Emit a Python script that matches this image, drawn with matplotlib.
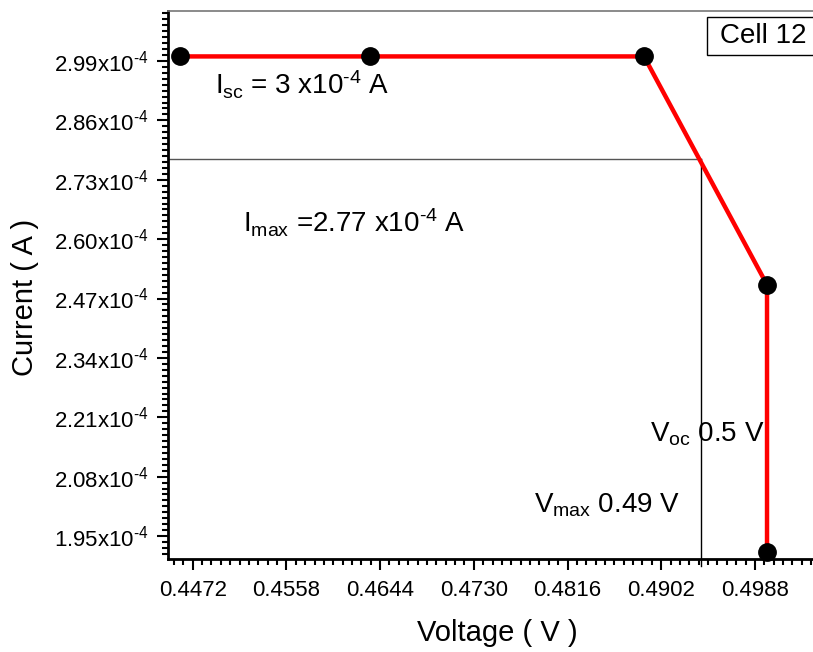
import matplotlib
matplotlib.use("Agg")
import matplotlib.pyplot as plt
from matplotlib.patches import Rectangle
from matplotlib.ticker import MultipleLocator

plt.rcParams['font.family'] = ['Liberation Sans', 'DejaVu Sans']
plt.rcParams['mathtext.fontset'] = 'custom'
plt.rcParams['mathtext.rm'] = 'Liberation Sans'
plt.rcParams['mathtext.it'] = 'Liberation Sans'
plt.rcParams['mathtext.default'] = 'regular'

# I-V data
voltage = [0.44603, 0.46347, 0.48862, 0.49991, 0.49991]
current = [3.0e-4, 3.0e-4, 3.0e-4, 2.50e-4, 1.915e-4]

# maximum power point
v_max = 0.49383
i_max = 2.775e-4

xticks = [0.4472, 0.4558, 0.4644, 0.4730, 0.4816, 0.4902, 0.4988]
yticks = [1.95, 2.08, 2.21, 2.34, 2.47, 2.60, 2.73, 2.86, 2.99]  # x1e-4

fig = plt.figure(figsize=(8.13, 6.52), dpi=100)
ax = fig.add_axes([0.2066, 0.1426, 0.7934, 0.8405])

ax.plot([0.44493, v_max], [i_max, i_max], color='#555555', lw=1.0, zorder=1)
ax.plot([v_max, v_max], [1.885e-4, i_max], color='black', lw=1.0, zorder=1, clip_on=False)

ax.plot(voltage, current, color='#ff0000', lw=3.2, zorder=2)
ax.plot(voltage, current, 'o', color='black', markersize=12.5, zorder=3, clip_on=False)

ax.set_xlim(0.44493, 0.50413)
ax.set_ylim(1.8997e-4, 3.0994e-4)

ax.set_xticks(xticks)
ax.set_xticklabels([f"{v:.4f}" for v in xticks])
ax.set_yticks([v * 1e-4 for v in yticks])
ax.set_yticklabels([f"{v:.2f}x10$^{{\\text{{-4}}}}$" for v in yticks])
ax.xaxis.set_minor_locator(MultipleLocator(0.00086))
ax.yaxis.set_minor_locator(MultipleLocator(0.013e-4))

ax.tick_params(axis='both', which='major', direction='out', length=8, width=1.5,
               labelsize=16)
ax.tick_params(axis='both', which='minor', direction='out', length=4.5, width=1.5)
ax.tick_params(axis='x', which='major', pad=7)
ax.tick_params(axis='y', which='major', pad=6)

for side in ['left', 'bottom']:
    ax.spines[side].set_linewidth(2)
ax.spines['right'].set_visible(False)
ax.spines['top'].set_color('#777777')
ax.spines['top'].set_linewidth(1.2)

ax.set_xlabel("Voltage ( V )", fontsize=21, va='baseline')
ax.set_ylabel("Current ( A )", fontsize=21, va='baseline', ha='center',
              rotation_mode='anchor')
ax.xaxis.set_label_coords(0.510, -0.1496)
ax.yaxis.set_label_coords(-0.2093, 0.478)

ax.text(0.44925, 2.9156e-4, "I$_{sc}$ = 3 x10$^{\\text{-4}}$ A", fontsize=20, va='baseline')
ax.text(0.45182, 2.6136e-4, "I$_{max}$ =2.77 x10$^{\\text{-4}}$ A", fontsize=20, va='baseline')
ax.text(0.48917, 2.1562e-4, "V$_{oc}$ 0.5 V", fontsize=20, va='baseline')
ax.text(0.47853, 2.0008e-4, "V$_{max}$ 0.49 V", fontsize=20, va='baseline')

fig.patches.append(Rectangle((707 / 813, 1 - 55 / 652), 200 / 813, 38 / 652,
                             transform=fig.transFigure, facecolor='white',
                             edgecolor='black', lw=1, zorder=5))
fig.text(720 / 813, 1 - 36 / 652, "Cell 12", fontsize=20, va='center', zorder=6)

fig.savefig("out.png", dpi=100)
